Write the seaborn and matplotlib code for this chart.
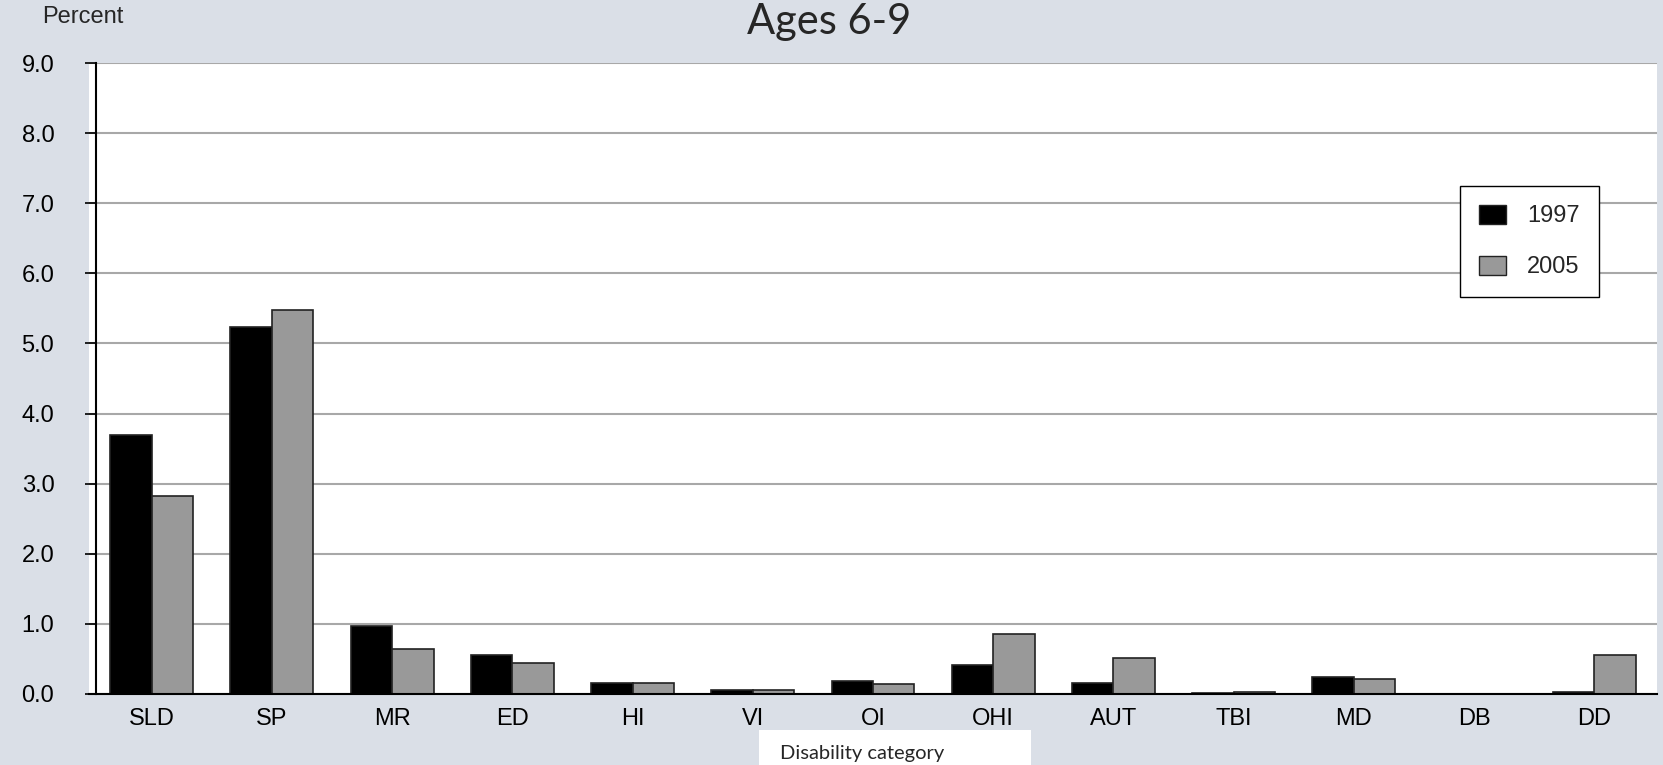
import matplotlib
matplotlib.use("Agg")
import matplotlib.pyplot as plt
import pandas as pd
import seaborn as sns
from matplotlib.patches import Patch, Rectangle

# Disability categories and percent of population served, ages 6-9
categories = ["SLD", "SP", "MR", "ED", "HI", "VI", "OI", "OHI", "AUT", "TBI", "MD", "DB", "DD"]
pct_1997 = [3.70, 5.24, 0.97, 0.55, 0.15, 0.06, 0.18, 0.41, 0.15, 0.02, 0.24, 0.00, 0.03]
pct_2005 = [2.83, 5.47, 0.64, 0.44, 0.15, 0.05, 0.14, 0.85, 0.51, 0.03, 0.21, 0.00, 0.56]
years = ["1997", "2005"]
y_ticks = [0, 1, 2, 3, 4, 5, 6, 7, 8, 9]

df = pd.DataFrame({
    "category": categories * 2,
    "percent": pct_1997 + pct_2005,
    "year": [years[0]] * len(categories) + [years[1]] * len(categories),
})

BG = "#DADFE7"
colors = {"1997": "#000000", "2005": "#999999"}

sns.set_theme(style="white")
plt.rcParams["font.family"] = ["Liberation Sans", "DejaVu Sans"]

W, H = 1663, 765
fig = plt.figure(figsize=(W / 100, H / 100), dpi=100, facecolor=BG)
ax = fig.add_axes([89 / W, 1 - 694 / H, (1657 - 89) / W, (694 - 63) / H])
ax.set_facecolor("white")

sns.barplot(data=df, x="category", y="percent", hue="year", order=categories,
            hue_order=years, palette=colors, saturation=1, width=0.69, gap=0,
            edgecolor="#222222", linewidth=1.2, legend=False, ax=ax)

ax.set_xlim(-0.52, 12.52)
ax.set_ylim(0, 9)
ax.set_yticks(y_ticks)
ax.set_yticklabels([f"{v:.1f}" for v in y_ticks])
ax.yaxis.grid(True, color="#A8A8A8", linewidth=1.5)
ax.set_axisbelow(True)

for side in ("top", "right"):
    ax.spines[side].set_visible(False)
ax.spines["left"].set_position(("axes", 7 / 1568))
ax.spines["left"].set_color("black")
ax.spines["left"].set_linewidth(1.5)
ax.spines["bottom"].set_color("black")
ax.spines["bottom"].set_linewidth(1.5)

ax.tick_params(axis="y", direction="out", length=8, width=1.2, color="black",
               pad=22, labelsize=17, labelcolor="black", left=True)
ax.tick_params(axis="x", length=0, pad=10, labelsize=17, labelcolor="black")
ax.set_xlabel("")
ax.set_ylabel("")

handles = [Patch(facecolor=colors[y], edgecolor="#222222", linewidth=1.0) for y in years]
leg = ax.legend(handles, years, loc="upper left",
                bbox_to_anchor=(1460 / W, 1 - 186 / H), bbox_transform=fig.transFigure,
                frameon=True, fancybox=False, edgecolor="black", framealpha=1,
                fontsize=17, handlelength=1.15, handleheight=0.85, labelspacing=1.2,
                borderpad=0.8, handletextpad=0.9, borderaxespad=0)
leg.get_frame().set_linewidth(1.0)

fig.text(42 / W, 1 - 17 / H, "Percent", fontsize=17, ha="left", va="center")
fig.text(829 / W, 1 - 22 / H, "Ages 6-9", fontsize=30, ha="center", va="center",
         family=["Lato", "DejaVu Sans"])

fig.patches.append(Rectangle((759 / W, 0), (1031 - 759) / W, 35 / H,
                             transform=fig.transFigure, facecolor="white",
                             edgecolor="none"))
fig.text(780 / W, 11 / H, "Disability category", fontsize=14.5, ha="left", va="center",
         family=["Lato", "DejaVu Sans"])

fig.savefig("out.png", dpi=100, facecolor=BG)
